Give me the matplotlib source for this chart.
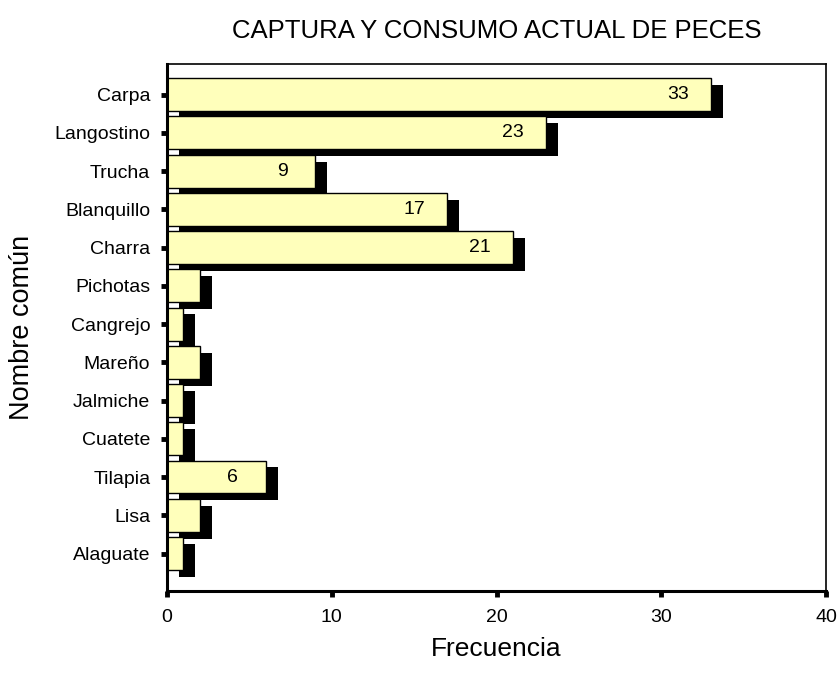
# Captura y consumo actual de peces - barras horizontales con sombra
import matplotlib
matplotlib.use("Agg")
import matplotlib.pyplot as plt

plt.rcParams['font.family'] = ['Liberation Sans', 'DejaVu Sans']

# Datos
especies = ["Carpa", "Langostino", "Trucha", "Blanquillo", "Charra", "Pichotas",
            "Cangrejo", "Mareño", "Jalmiche", "Cuatete", "Tilapia", "Lisa", "Alaguate"]
frecuencia = [33, 23, 9, 17, 21, 2, 1, 2, 1, 1, 6, 2, 1]
xticks = [0, 10, 20, 30, 40]

color_barra = "#FFFFBB"
sombra_dx = 0.72
sombra_dy = 0.18
alto = 0.86

fig = plt.figure(figsize=(8.38, 6.85), dpi=100)
ax = fig.add_axes([167 / 838, 1 - 591 / 685, 659 / 838, 527 / 685])

pos = list(range(len(especies)))

# sombra negra desplazada
ax.barh([p + sombra_dy for p in pos], frecuencia, height=alto, left=sombra_dx,
        color="black", edgecolor="black", linewidth=0, zorder=1)
# barras amarillas
ax.barh(pos, frecuencia, height=alto, color=color_barra, edgecolor="black",
        linewidth=1, zorder=2)

# etiquetas de valor (solo las barras grandes)
for p, v in zip(pos, frecuencia):
    if v >= 5:
        ax.text(v - 2, p, str(v), ha="center", va="center", fontsize=14, zorder=3)

ax.set_xlim(0, 40)
ax.set_ylim(12.98, -0.8)
ax.set_xticks(xticks)
ax.set_yticks(pos)
ax.set_yticklabels(especies)

ax.tick_params(axis="both", direction="out", length=4, width=3.5, labelsize=14, colors="black")
ax.tick_params(axis="y", pad=8)
ax.tick_params(axis="x", pad=9)

for s in ["left", "bottom"]:
    ax.spines[s].set_linewidth(2.2)
for s in ["top", "right"]:
    ax.spines[s].set_linewidth(1.2)

ax.set_title("CAPTURA Y CONSUMO ACTUAL DE PECES", fontsize=18.5, pad=19)
ax.set_xlabel("Frecuencia", fontsize=19)
ax.set_ylabel("Nombre común", fontsize=19.5)
ax.xaxis.set_label_coords(0.5, -0.088)
ax.yaxis.set_label_coords(-0.2, 0.5)

fig.savefig("out.png", dpi=100)
